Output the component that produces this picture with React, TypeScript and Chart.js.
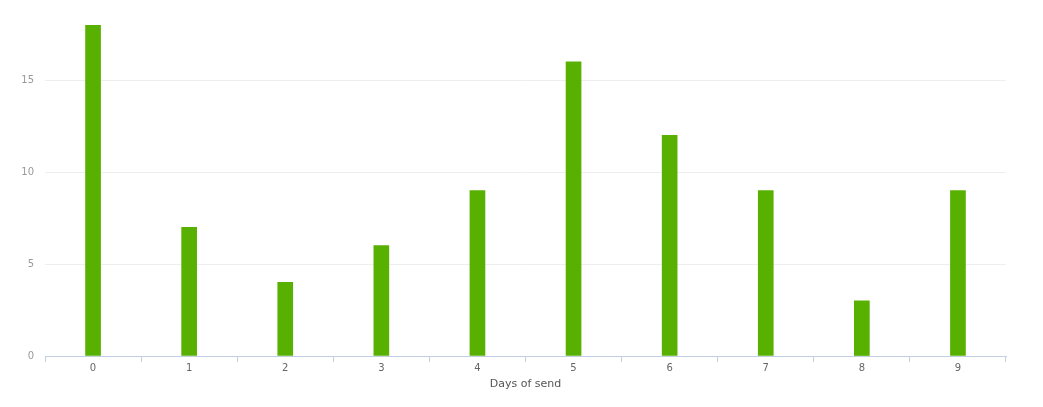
import React, { useEffect, useRef } from "react";
import { Chart, registerables } from "chart.js";

Chart.register(...registerables);

const categories = ["0", "1", "2", "3", "4", "5", "6", "7", "8", "9"];
const sends = [18, 7, 4, 6, 9, 16, 12, 9, 3, 9];
const yTicks = [0, 5, 10, 15];
const xTitle = "Days of send";

export default function App() {
  const ref = useRef<HTMLCanvasElement | null>(null);
  useEffect(() => {
    if (!ref.current) return;
    const chart = new Chart(ref.current, {
      type: "bar",
      data: {
        labels: categories,
        datasets: [
          {
            label: "Sends",
            data: sends,
            backgroundColor: "#58b000",
            barThickness: 15,
            borderWidth: 0,
          },
        ],
      },
      options: {
        animation: false,
        responsive: false,
        maintainAspectRatio: false,
        layout: { padding: { top: 25, right: 37, left: 0, bottom: 0 } },
        plugins: { legend: { display: false }, tooltip: { enabled: false } },
        scales: {
          x: {
            grid: {
              display: true,
              drawOnChartArea: false,
              drawTicks: true,
              tickLength: 6,
              color: "#c0d0e0",
              offset: true,
            },
            border: { display: true, color: "#c0d0e0", width: 1 },
            ticks: {
              color: "#666666",
              font: { family: "DejaVu Sans", size: 10 },
              padding: 0,
              maxRotation: 0,
            },
            title: {
              display: true,
              text: xTitle,
              color: "#555555",
              font: { family: "DejaVu Sans", size: 11 },
              padding: { top: 0, bottom: 16 },
            },
            afterFit: (s: any) => {
              s.height = 51;
            },
          },
          y: {
            min: 0,
            max: 18,
            afterBuildTicks: (s: any) => {
              s.ticks = yTicks.map((v) => ({ value: v }));
            },
            grid: { color: "#eeeeee", drawTicks: false, lineWidth: 1 },
            border: { display: false },
            ticks: {
              color: "#999999",
              font: { family: "DejaVu Sans", size: 10 },
              padding: 11,
            },
            afterFit: (s: any) => {
              s.width = 45;
            },
          },
        },
      },
    });
    return () => chart.destroy();
  }, []);
  return (
    <div style={{ position: "fixed", left: 0, top: 0, width: 1043, height: 407, background: "#fff" }}>
      <canvas ref={ref} width={1043} height={407} style={{ width: 1043, height: 407 }} />
    </div>
  );
}
